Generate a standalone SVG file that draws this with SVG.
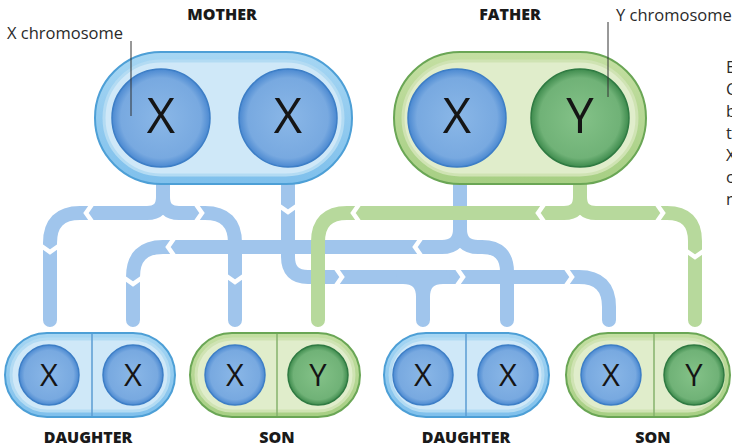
<svg xmlns="http://www.w3.org/2000/svg" xmlns:xlink="http://www.w3.org/1999/xlink" width="732" height="445" viewBox="0 0 732 445">
<style>
.lab{font-family:"Open Sans","DejaVu Sans",sans-serif;font-weight:800;font-size:16px;fill:#1a1a1a;text-anchor:middle}
.note{font-family:"Open Sans","DejaVu Sans",sans-serif;font-weight:400;font-size:16.5px;fill:#2a2a2a}
.big{font-family:"Open Sans","DejaVu Sans",sans-serif;font-size:49px;fill:#151515;text-anchor:middle}
.sm{font-family:"Open Sans","DejaVu Sans",sans-serif;font-size:31px;fill:#151515;text-anchor:middle}
.bl{fill:none;stroke:#a0c5ec;stroke-width:14;stroke-linecap:round;stroke-linejoin:round}
.gr{fill:none;stroke:#b7d99c;stroke-width:14;stroke-linecap:round;stroke-linejoin:round}
.ring-b{fill:url(#ringB);stroke:#4d9fd6;stroke-width:2}
.in-b{fill:#cfe8f8;stroke:#b3dbf3;stroke-width:3}
.ring-g{fill:url(#ringG);stroke:#6aa655;stroke-width:2}
.in-g{fill:#e0edcb;stroke:#cfe3b3;stroke-width:3}
.cb{fill:url(#circB);stroke:#3d7ec6;stroke-width:1.5}
.cg{fill:url(#circG);stroke:#2f7a42;stroke-width:1.5}
.divb{stroke:#5b9dd3;stroke-width:1.5}
.divg{stroke:#86b26c;stroke-width:1.5}
.lead{stroke:#333;stroke-width:1}
</style>
<defs>
<linearGradient id="ringB" x1="0" y1="0" x2="0" y2="1"><stop offset="0" stop-color="#a6d6f3"/><stop offset="1" stop-color="#7fc0ec"/></linearGradient>
<linearGradient id="ringG" x1="0" y1="0" x2="0" y2="1"><stop offset="0" stop-color="#c4dfa2"/><stop offset="1" stop-color="#a7cf84"/></linearGradient>
<radialGradient id="circB" cx="0.5" cy="0.5" r="0.5"><stop offset="0" stop-color="#8ab7e7"/><stop offset="0.82" stop-color="#78a9e0"/><stop offset="1" stop-color="#4b89d1"/></radialGradient>
<radialGradient id="circG" cx="0.5" cy="0.5" r="0.5"><stop offset="0" stop-color="#84c288"/><stop offset="0.82" stop-color="#70b277"/><stop offset="1" stop-color="#3e8b4d"/></radialGradient>
<polyline id="chev" points="-7,-10 0,0 -7,10" fill="none" stroke="#ffffff" stroke-width="4.5"/>
</defs>
<rect width="732" height="445" fill="#ffffff"/>

<g id="connectors">
<path class="bl" d="M163,180 V197 Q163,213 147,213 H80 Q50,213 50,243 V320"/>
<path class="bl" d="M163,197 Q163,213 179,213 H205 Q235,213 235,243 V320"/>
<path class="bl" d="M288,180 V257 Q288,277 308,277 H579 Q609,277 609,307 V320"/>
<path class="bl" d="M403,277 Q423,277 423,297 V320 M443,277 Q423,277 423,297"/>
<path class="bl" d="M460,180 V229 Q460,247 442,247 H163 Q133,247 133,277 V320"/>
<path class="bl" d="M460,229 Q460,247 478,247 H482 Q507,247 507,272 V320"/>
<use xlink:href="#chev" transform="translate(86,213) rotate(180)"/>
<use xlink:href="#chev" transform="translate(50,252) rotate(90)"/>
<use xlink:href="#chev" transform="translate(202,213)"/>
<use xlink:href="#chev" transform="translate(235,282) rotate(90)"/>
<use xlink:href="#chev" transform="translate(288,212) rotate(90)"/>
<use xlink:href="#chev" transform="translate(342,277)"/>
<use xlink:href="#chev" transform="translate(463,277)"/>
<use xlink:href="#chev" transform="translate(572,277)"/>
<use xlink:href="#chev" transform="translate(415,247) rotate(180)"/>
<use xlink:href="#chev" transform="translate(168,247) rotate(180)"/>
<use xlink:href="#chev" transform="translate(133,284) rotate(90)"/>
<path class="gr" d="M580,180 V197 Q580,213 564,213 H347 Q318,213 318,242 V320"/>
<path class="gr" d="M580,197 Q580,213 596,213 H667 Q695,213 695,241 V320"/>
<use xlink:href="#chev" transform="translate(538,213) rotate(180)"/>
<use xlink:href="#chev" transform="translate(353,213) rotate(180)"/>
<use xlink:href="#chev" transform="translate(663,213)"/>
<use xlink:href="#chev" transform="translate(695,257) rotate(90)"/>
</g>

<g id="mother">
<rect class="ring-b" x="95" y="52" width="257" height="132" rx="66"/>
<rect class="in-b" x="104" y="61" width="239" height="114" rx="57"/>
<circle class="cb" cx="161" cy="118" r="49"/>
<circle class="cb" cx="288" cy="118" r="49"/>
<text class="big" x="161" y="133">X</text>
<text class="big" x="288" y="133">X</text>
<text class="lab" x="222" y="20">MOTHER</text>
</g>

<g id="father">
<rect class="ring-g" x="394" y="52" width="252" height="132" rx="66"/>
<rect class="in-g" x="403" y="61" width="234" height="114" rx="57"/>
<circle class="cb" cx="457" cy="118" r="49"/>
<circle class="cg" cx="580" cy="118" r="49"/>
<text class="big" x="457" y="133">X</text>
<text class="big" x="580" y="133">Y</text>
<text class="lab" x="510" y="20">FATHER</text>
</g>

<g id="x-label">
<text class="note" x="7" y="39">X chromosome</text>
<line class="lead" x1="131" y1="41" x2="131" y2="116"/>
</g>

<g id="y-label">
<text class="note" x="616" y="21">Y chromosome</text>
<line class="lead" x1="608" y1="22" x2="608" y2="97"/>
</g>

<g id="side-text">
<text class="note" x="726" y="73" font-weight="700">E</text>
<text class="note" x="726" y="95">C</text>
<text class="note" x="726" y="117">b</text>
<text class="note" x="726" y="139">t</text>
<text class="note" x="726" y="161">X</text>
<text class="note" x="726" y="183">c</text>
<text class="note" x="726" y="205">n</text>
</g>

<g id="daughter1">
<rect class="ring-b" x="5" y="333" width="170" height="84" rx="42"/>
<rect class="in-b" x="11" y="339" width="158" height="72" rx="36"/>
<line class="divb" x1="92" y1="334" x2="92" y2="416"/>
<circle class="cb" cx="49" cy="375" r="30"/>
<circle class="cb" cx="133" cy="375" r="30"/>
<text class="sm" x="49" y="386">X</text>
<text class="sm" x="133" y="386">X</text>
<text class="lab" x="88" y="443">DAUGHTER</text>
</g>

<g id="son1">
<rect class="ring-g" x="190" y="333" width="170" height="84" rx="42"/>
<rect class="in-g" x="196" y="339" width="158" height="72" rx="36"/>
<line class="divg" x1="277" y1="334" x2="277" y2="416"/>
<circle class="cb" cx="235" cy="375" r="30"/>
<circle class="cg" cx="318" cy="375" r="30"/>
<text class="sm" x="235" y="386">X</text>
<text class="sm" x="318" y="386">Y</text>
<text class="lab" x="277" y="443">SON</text>
</g>

<g id="daughter2">
<rect class="ring-b" x="384" y="333" width="165" height="84" rx="42"/>
<rect class="in-b" x="390" y="339" width="153" height="72" rx="36"/>
<line class="divb" x1="466" y1="334" x2="466" y2="416"/>
<circle class="cb" cx="423" cy="375" r="30"/>
<circle class="cb" cx="508" cy="375" r="30"/>
<text class="sm" x="423" y="386">X</text>
<text class="sm" x="508" y="386">X</text>
<text class="lab" x="466" y="443">DAUGHTER</text>
</g>

<g id="son2">
<rect class="ring-g" x="566" y="333" width="164" height="84" rx="42"/>
<rect class="in-g" x="572" y="339" width="152" height="72" rx="36"/>
<line class="divg" x1="654" y1="334" x2="654" y2="416"/>
<circle class="cb" cx="611" cy="375" r="30"/>
<circle class="cg" cx="694" cy="375" r="30"/>
<text class="sm" x="611" y="386">X</text>
<text class="sm" x="694" y="386">Y</text>
<text class="lab" x="653" y="443">SON</text>
</g>
</svg>
